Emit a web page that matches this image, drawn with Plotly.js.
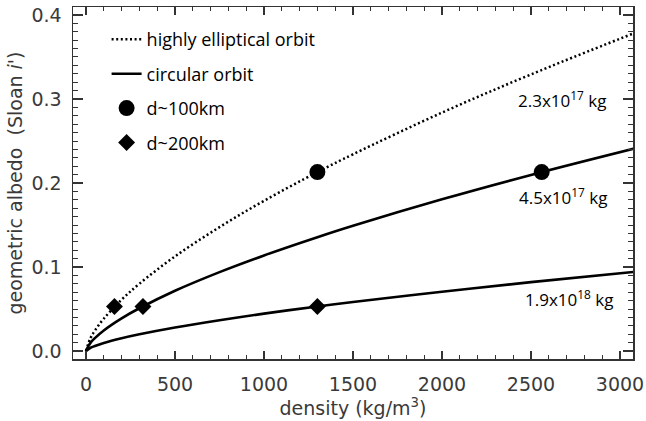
<!DOCTYPE html>
<html>
<head>
<meta charset="utf-8">
<script src="https://cdn.plot.ly/plotly-3.0.1.min.js"></script>
<style>html,body{margin:0;padding:0;background:#fff;}#chart{width:646px;height:421px;}</style>
</head>
<body>
<div id="chart"></div>
<script>
// density (kg/m^3) sample points
const density = [0, 25, 50, 100, 200, 300, 500, 750, 1000, 1300, 1500, 2000, 2500, 3075];
// highly elliptical orbit, 2.3x10^17 kg (dotted)
const albedoElliptical = [0, 0.0153, 0.0243, 0.0385, 0.0611, 0.0801, 0.1126, 0.1475, 0.1788, 0.213, 0.2342, 0.2838, 0.3293, 0.378];
// circular orbit, 4.5x10^17 kg
const albedoCircular45 = [0, 0.0097, 0.0154, 0.0245, 0.0389, 0.0509, 0.0717, 0.0939, 0.1138, 0.1355, 0.1491, 0.1806, 0.2096, 0.2407];
// circular orbit, 1.9x10^18 kg
const albedoCircular19 = [0, 0.0038, 0.0060, 0.0096, 0.0152, 0.0199, 0.0280, 0.0367, 0.0445, 0.053, 0.0583, 0.0706, 0.0820, 0.0941];

// d~100km points
const d100Density = [1300, 2560];
const d100Albedo = [0.213, 0.213];
// d~200km points
const d200Density = [160, 320, 1300];
const d200Albedo = [0.053, 0.053, 0.053];

const massLabels = ['2.3x10<sup>17</sup> kg', '4.5x10<sup>17</sup> kg', '1.9x10<sup>18</sup> kg'];
const labelDensity = [2674, 2680, 2713];
const labelAlbedo = [0.299, 0.1845, 0.063];

const axisFont = {family: 'DejaVu Sans', size: 19, color: '#3a3a3a'};
const titleFont = {family: 'DejaVu Sans', size: 19, color: '#3a3a3a'};
const textFont = {family: 'Open Sans', size: 17, color: '#000'};

const traces = [
  {x: density, y: albedoElliptical, mode: 'lines', name: 'highly elliptical orbit', legendgroup: 'a',
   line: {color: '#000', width: 2.5, dash: '2px,2.6px', shape: 'spline'}},
  {x: density, y: albedoCircular45, mode: 'lines', name: 'circular orbit', legendgroup: 'b',
   line: {color: '#000', width: 2.6, shape: 'spline'}},
  {x: density, y: albedoCircular19, mode: 'lines', name: 'circular orbit 1.9e18', showlegend: false,
   line: {color: '#000', width: 2.6, shape: 'spline'}},
  {x: d100Density, y: d100Albedo, mode: 'markers', name: 'd~100km', legendgroup: 'c',
   marker: {symbol: 'circle', size: 16, color: '#000'}},
  {x: d200Density, y: d200Albedo, mode: 'markers', name: 'd~200km', legendgroup: 'd',
   marker: {symbol: 'diamond', size: 13, color: '#000'}}
];

const layout = {
  width: 646, height: 421,
  margin: {l: 73, r: 13, t: 7, b: 62},
  paper_bgcolor: '#fff', plot_bgcolor: '#fff',
  showlegend: true,
  legend: {x: 0.06, y: 0.96, xanchor: 'left', yanchor: 'top', bgcolor: 'rgba(0,0,0,0)',
           font: {family: 'Open Sans', size: 18, color: '#000'}, traceorder: 'grouped', tracegroupgap: 8},
  xaxis: {
    range: [-73, 3073], showgrid: false, zeroline: false,
    showline: true, linecolor: '#333', linewidth: 1.5, mirror: 'ticks',
    ticks: 'inside', ticklen: 8, tickwidth: 1.2, tickcolor: '#333',
    tick0: 0, dtick: 500, tickfont: axisFont, ticklabelstandoff: 8,
    minor: {dtick: 100, ticks: 'inside', ticklen: 4, tickwidth: 1, tickcolor: '#333', showgrid: false},
    title: {text: 'density (kg/m<sup>3</sup>)', font: titleFont, standoff: 3}
  },
  yaxis: {
    range: [-0.0095, 0.4095], showgrid: false, zeroline: false,
    showline: true, linecolor: '#333', linewidth: 1.5, mirror: 'ticks',
    ticks: 'inside', ticklen: 10, tickwidth: 1.2, tickcolor: '#333',
    tick0: 0, dtick: 0.1, tickformat: '.1f', tickfont: axisFont, ticklabelstandoff: 6,
    minor: {dtick: 0.01, ticks: 'inside', ticklen: 5, tickwidth: 1, tickcolor: '#333', showgrid: false},
    title: {text: 'geometric albedo\u00a0\u00a0(Sloan <i>i\'</i>)', font: titleFont, standoff: 4}
  },
  annotations: massLabels.map((t, i) => ({
    x: labelDensity[i], y: labelAlbedo[i], xref: 'x', yref: 'y', text: t, showarrow: false,
    font: textFont, xanchor: 'center', yanchor: 'middle'
  }))
};

Plotly.newPlot('chart', traces, layout, {displayModeBar: false, staticPlot: true});
</script>
</body>
</html>
